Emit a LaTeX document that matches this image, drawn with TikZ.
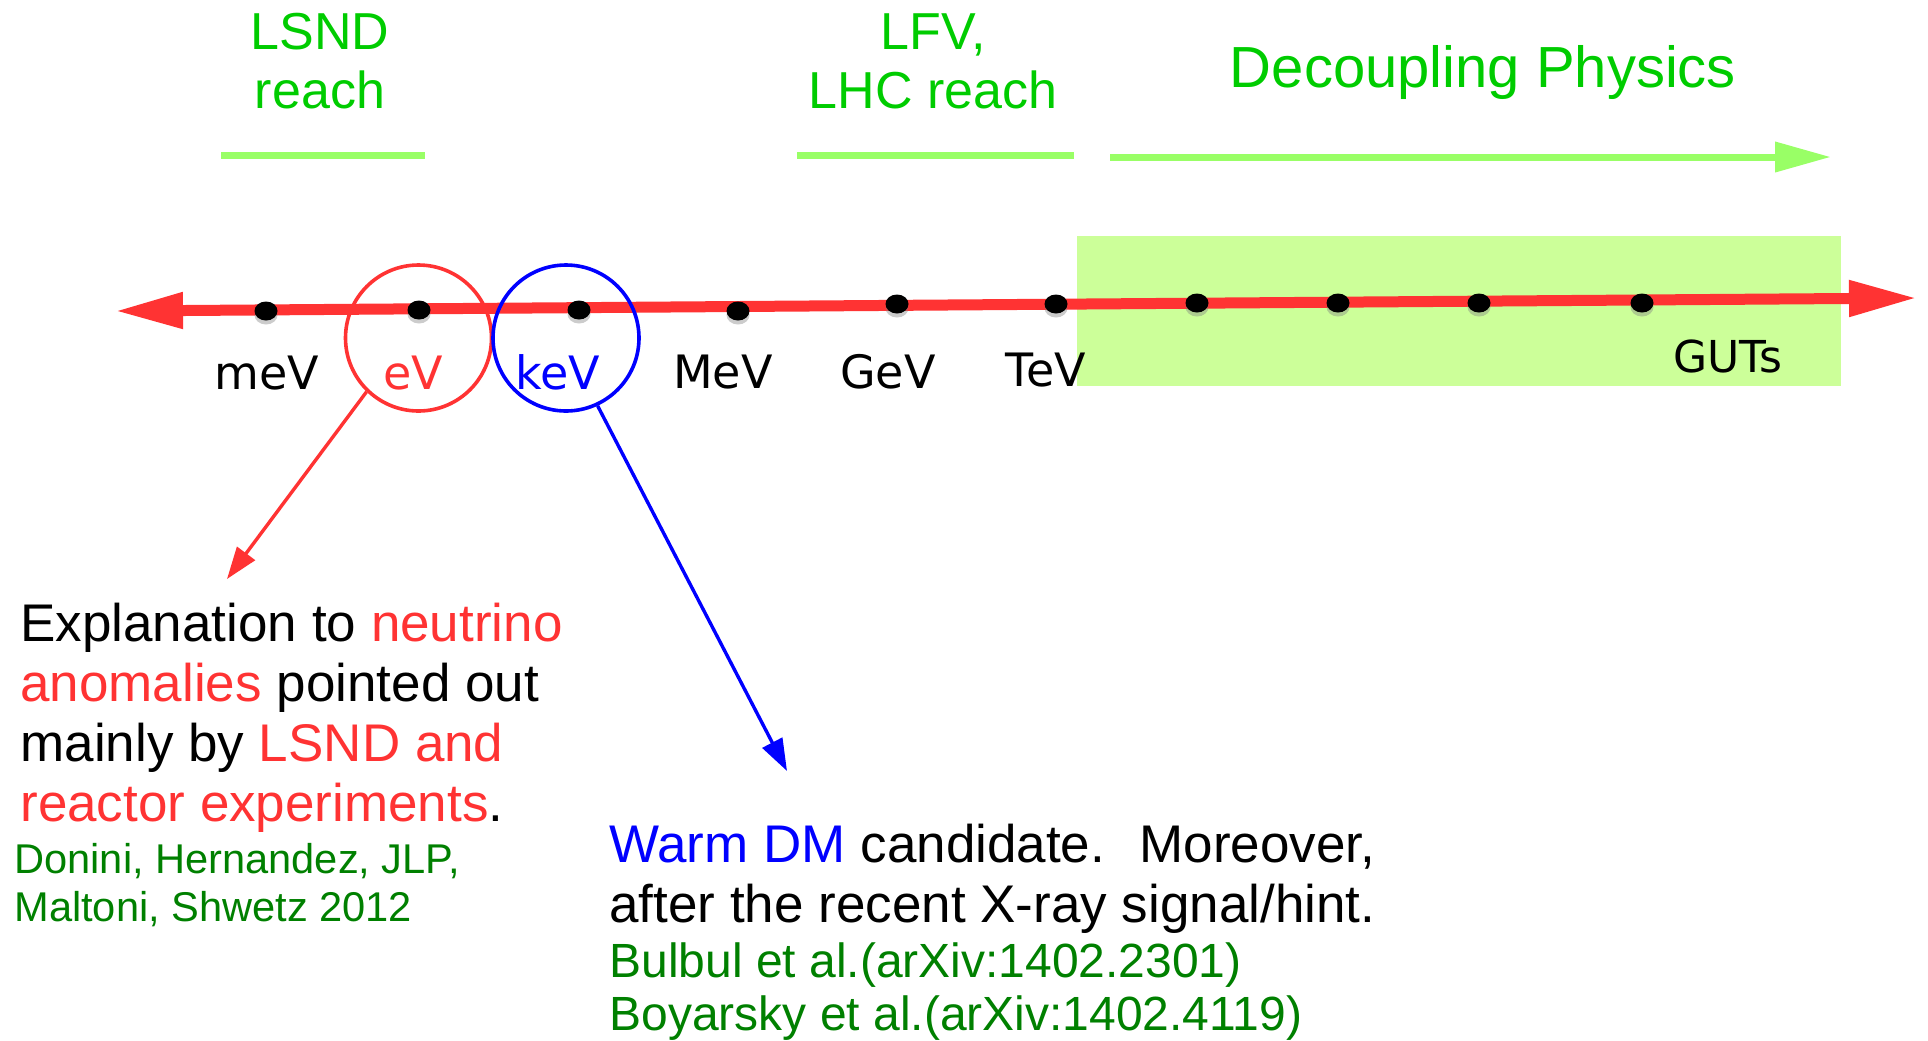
\documentclass[tikz,border=0pt]{standalone}
\usepackage{fontspec}
\setmainfont{Liberation Sans}
\newfontfamily\axisfont{DejaVu Sans}
\usepackage{tikz}
\usetikzlibrary{arrows.meta}
\usetikzlibrary{shapes}
\usetikzlibrary{shadows}
\usepackage{xcolor}

\definecolor{axisred}{RGB}{255,51,51}
\definecolor{kevblue}{RGB}{0,0,255}
\definecolor{reachgreen}{RGB}{0,204,0}
\definecolor{bargreen}{RGB}{153,255,102}
\definecolor{boxgreen}{RGB}{204,255,153}
\definecolor{refgreen}{RGB}{0,128,0}

\begin{document}
\begin{tikzpicture}[x=0.5pt,y=0.5pt,yscale=-1,xscale=1,
  scaledot/.style={ellipse,fill=black,minimum width=11.5pt,minimum height=9.5pt,inner sep=0pt,
    drop shadow={shadow xshift=0pt,shadow yshift=-2pt,opacity=0.4}},
  axislabel/.style={anchor=base,inner sep=0pt,font=\axisfont\fontsize{23}{27}\selectfont},
  toplabel/.style={anchor=base,inner sep=0pt,align=center,text=reachgreen,font=\fontsize{26}{29.5}\selectfont},
  rangebar/.style={bargreen,line width=3.5pt},
  axisline/.style={axisred,line width=5.5pt,{Triangle[length=34pt,width=17pt]}-{Triangle[length=34pt,width=17pt]}},
  scalecircle/.style={circle,minimum size=73pt,inner sep=0pt,line width=1.8pt},
  pointer/.style={line width=1.7pt,-{Triangle[length=16pt,width=11pt]}},
  bigtext/.style={anchor=base west,inner sep=0pt,align=left,font=\fontsize{26.5}{30}\selectfont},
  reftext/.style={anchor=base west,inner sep=0pt,align=left,text=refgreen}
]
\useasboundingbox (0,0) rectangle (1928,1040);

%Decoupling region
\fill [boxgreen] (1077,236) rectangle (1841,386);

%Top labels (base = last line)
\node [toplabel] (lsnd) at (320,108) {LSND\\reach};
\node [toplabel] (lfv) at (933,108) {LFV,\\LHC reach};
\node [toplabel,font=\fontsize{29}{33}\selectfont] (decoupling) at (1483,87) {Decoupling Physics};

%Range bars
\coordinate (lsndL) at (221,155);
\coordinate (lsndR) at (425,155);
\coordinate (lfvL) at (797,155);
\coordinate (lfvR) at (1074,155);
\coordinate (decL) at (1110,157);
\coordinate (decR) at (1831,157);
\draw [rangebar] (lsndL) -- (lsndR);
\draw [rangebar] (lfvL) -- (lfvR);
\draw [rangebar,-{Triangle[length=28pt,width=14.5pt]}] (decL) -- (decR);

%Energy axis
\coordinate (axisL) at (115,311);
\coordinate (axisR) at (1917,298);
\draw [axisline] (axisL) -- (axisR);

%Scale points
\foreach \x/\y [count=\i] in {266/311,419/310,579/310,738/311,897/304,1056/304,1197/303,1338/303,1479/303,1642/303}
  \node [scaledot] (dot\i) at (\x,\y) {};

%Scale labels
\node [axislabel] (meV) at (267,389) {meV};
\node [axislabel,text=axisred] (eV) at (413,389) {eV};
\node [axislabel,text=kevblue] (keV) at (558,389) {keV};
\node [axislabel] (MeV) at (723,388) {MeV};
\node [axislabel] (GeV) at (888,388) {GeV};
\node [axislabel] (TeV) at (1046,386) {TeV};
\node [axislabel,font=\axisfont\fontsize{22}{26}\selectfont] (GUTs) at (1728,372) {GUTs};

%Circles
\node [scalecircle,draw=axisred] (evCircle) at (418.5,338) {};
\node [scalecircle,draw=kevblue] (kevCircle) at (566,338) {};

%Pointers
\coordinate (evTip) at (227,579);
\coordinate (kevTip) at (787,771);
\draw [pointer,axisred] (evCircle.226) -- (evTip);
\draw [pointer,kevblue] (kevCircle.295) -- (kevTip);

% Text Node
\node [bigtext] (sterileText) at (20,821) {Explanation to \textcolor{axisred}{neutrino}\\\textcolor{axisred}{anomalies} pointed out\\mainly by \textcolor{axisred}{LSND and}\\\textcolor{axisred}{reactor experiments}.};
% Text Node
\node [reftext,font=\fontsize{20.8}{24}\selectfont] (sterileRef) at (14,921) {Donini, Hernandez, JLP,\\Maltoni, Shwetz 2012};
% Text Node
\node [bigtext] (warmText) at (609,922) {\textcolor{kevblue}{Warm DM} candidate.~ Moreover,\\after the recent X-ray signal/hint.};
% Text Node
\node [reftext,font=\fontsize{24}{26.5}\selectfont] (warmRef) at (609,1030) {Bulbul et al.(arXiv:1402.2301)\\Boyarsky et al.(arXiv:1402.4119)};

\end{tikzpicture}
\end{document}
